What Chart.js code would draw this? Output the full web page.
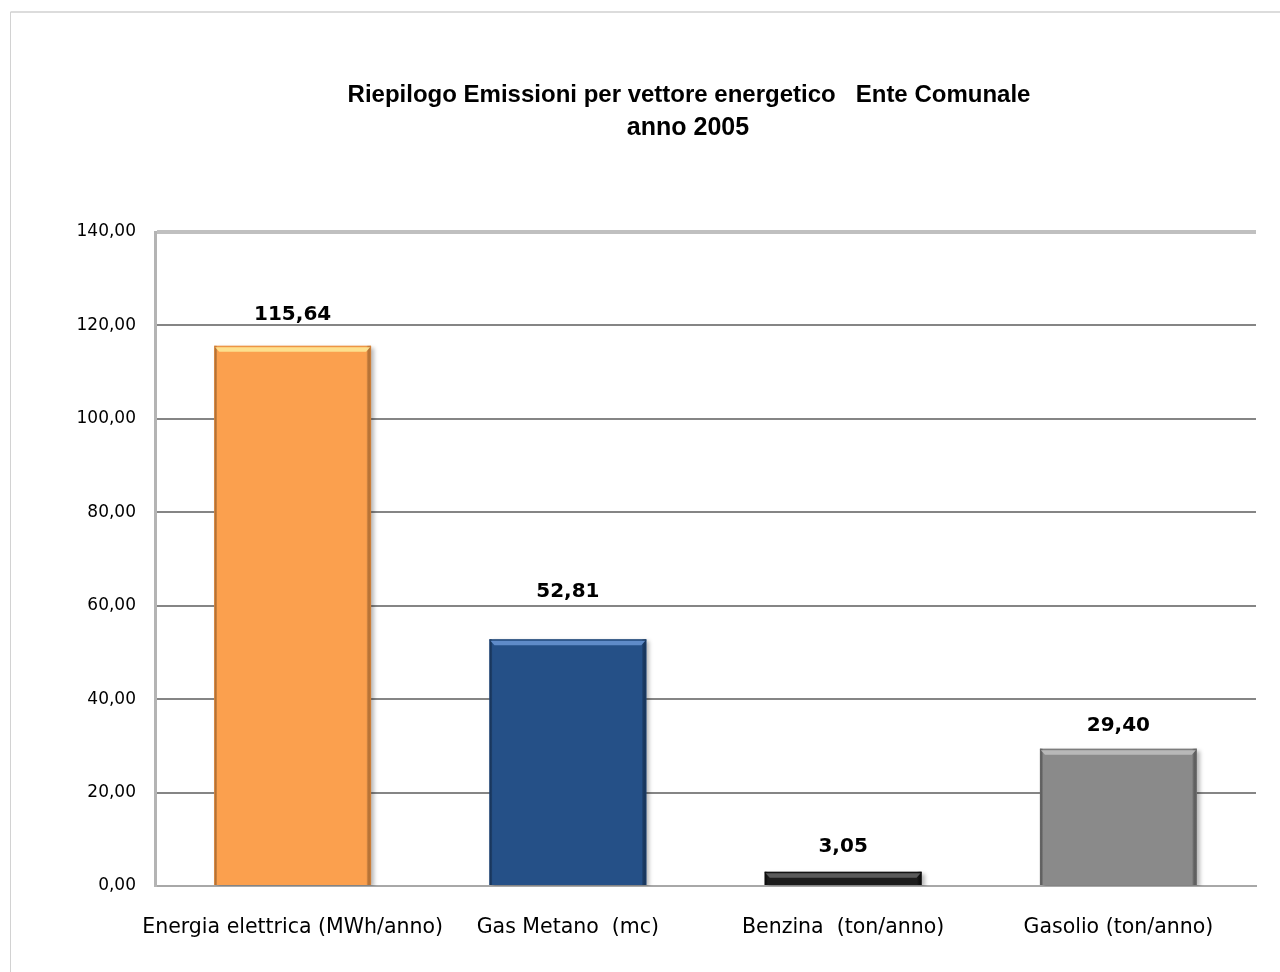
<!DOCTYPE html>
<html lang="it">
<head>
<meta charset="utf-8">
<title>Riepilogo Emissioni per vettore energetico</title>
<script src="https://cdn.jsdelivr.net/npm/chart.js@4/dist/chart.umd.min.js"></script>
<style>
    html, body { margin: 0; padding: 0; background: #fff; }
    #wrap { width: 1280px; height: 972px; position: relative; }
</style>
</head>
<body>
<div id="wrap"><canvas id="emissioni" width="1280" height="972"></canvas></div>
<script>
const categorie = ["Energia elettrica (MWh/anno)", "Gas Metano  (mc)", "Benzina  (ton/anno)", "Gasolio (ton/anno)"];
const emissioni = [115.64, 52.81, 3.05, 29.40];
const titolo = ["Riepilogo Emissioni per vettore energetico   Ente Comunale", "anno 2005"];
const asseMin = 0;
const asseMax = 140;
const passo = 20;

// colori delle barre: corpo, riflesso in alto, bordo scuro
const coloriBarre = ["#fba04e", "#255087", "#1c1c1c", "#8a8a8a"];
const coloriRiflesso = ["#fde08e", "#5f8bc8", "#5a5a5a", "#b8b8b8"];
const coloriBordo = ["#e08a3c", "#1c3f6c", "#0a0a0a", "#6f6f6f"];
// distanza delle etichette sopra le barre
const alzaEtichetta = [31, 48, 25, 23];

const virgola = v => v.toFixed(2).replace(".", ",");

// cornice esterna e titolo
const cornice = {
    id: "cornice",
    beforeDraw(chart) {
        const ctx = chart.ctx;
        ctx.save();
        ctx.fillStyle = "#fff";
        ctx.fillRect(0, 0, chart.width, chart.height);
        ctx.strokeStyle = "#dcdcdc";
        ctx.lineWidth = 2;
        ctx.beginPath();
        ctx.moveTo(chart.width, 12);
        ctx.lineTo(10.5, 12);
        ctx.stroke();
        ctx.lineWidth = 1;
        ctx.strokeStyle = "#d2d2d2";
        ctx.beginPath();
        ctx.moveTo(10.5, 12);
        ctx.lineTo(10.5, chart.height);
        ctx.stroke();

        ctx.fillStyle = "#000";
        ctx.textAlign = "center";
        ctx.textBaseline = "middle";
        ctx.font = 'bold 24px "Liberation Sans", sans-serif';
        ctx.fillText(titolo[0], 689, 95);
        ctx.font = 'bold 25px "Liberation Sans", sans-serif';
        ctx.fillText(titolo[1], 688, 128);
        ctx.restore();
    }
};

// ombra sotto le barre
const ombra = {
    id: "ombra",
    beforeDatasetDraw(chart) {
        const ctx = chart.ctx;
        ctx.save();
        ctx.shadowColor = "rgba(0,0,0,0.28)";
        ctx.shadowBlur = 4;
        ctx.shadowOffsetX = 3;
        ctx.shadowOffsetY = 2;
    },
    afterDatasetDraw(chart) {
        chart.ctx.restore();
    }
};

// effetto rilievo e valori sopra le barre
const rilievo = {
    id: "rilievo",
    afterDatasetsDraw(chart) {
        const ctx = chart.ctx;
        const meta = chart.getDatasetMeta(0);
        meta.data.forEach((bar, i) => {
            const { x, y, base, width } = bar.getProps(["x", "y", "base", "width"], true);
            const left = x - width / 2;
            const h = base - y;
            ctx.save();
            // bordi laterali scuri
            let g = ctx.createLinearGradient(left, 0, left + width, 0);
            g.addColorStop(0, coloriBordo[i]);
            g.addColorStop(0.02, "rgba(0,0,0,0)");
            g.addColorStop(0.97, "rgba(0,0,0,0)");
            g.addColorStop(1, coloriBordo[i]);
            ctx.fillStyle = g;
            ctx.fillRect(left, y, width, h);
            // riflesso superiore
            const strip = Math.min(6, h / 2);
            ctx.fillStyle = coloriBordo[i];
            ctx.globalAlpha = 0.5;
            ctx.fillRect(left, y, width, 1.5);
            ctx.globalAlpha = 1;
            ctx.fillStyle = coloriRiflesso[i];
            ctx.beginPath();
            ctx.moveTo(left + 1, y + 1.5);
            ctx.lineTo(left + width - 1, y + 1.5);
            ctx.lineTo(left + width - 5, y + strip);
            ctx.lineTo(left + 5, y + strip);
            ctx.closePath();
            ctx.fill();
            ctx.restore();

            ctx.save();
            ctx.fillStyle = "#000";
            ctx.font = 'bold 20px "DejaVu Sans", sans-serif';
            ctx.textAlign = "center";
            ctx.textBaseline = "middle";
            ctx.fillText(virgola(emissioni[i]), x, y - alzaEtichetta[i]);
            ctx.restore();
        });
    }
};

new Chart(document.querySelector("#emissioni"), {
    type: "bar",
    data: {
        labels: categorie,
        datasets: [{
            data: emissioni,
            backgroundColor: coloriBarre,
            borderWidth: 0,
            categoryPercentage: 1,
            barPercentage: 0.57
        }]
    },
    options: {
        responsive: false,
        animation: false,
        layout: { padding: { left: 0, right: 24, top: 232, bottom: 0 } },
        plugins: {
            legend: { display: false },
            title: { display: false },
            tooltip: { enabled: false }
        },
        scales: {
            x: {
                grid: { display: false, drawTicks: false },
                border: { color: "#a8a8a8", width: 2 },
                ticks: {
                    color: "#000",
                    padding: 29,
                    autoSkip: false,
                    maxRotation: 0,
                    minRotation: 0,
                    font: { family: "DejaVu Sans", size: 20.5 }
                },
                afterFit(scale) { scale.height = 86; }
            },
            y: {
                min: asseMin,
                max: asseMax,
                grid: {
                    drawTicks: false,
                    color: c => c.tick && c.tick.value === asseMax ? "#c0c0c0" : "#858585",
                    lineWidth: c => c.tick && c.tick.value === asseMax ? 4 : 2
                },
                border: { color: "#b4b4b4", width: 3 },
                ticks: {
                    stepSize: passo,
                    color: "#000",
                    padding: 19,
                    font: { family: "DejaVu Sans", size: 17 },
                    callback: v => virgola(v)
                },
                afterFit(scale) { scale.width = 155; }
            }
        }
    },
    plugins: [cornice, ombra, rilievo]
});
</script>
</body>
</html>
